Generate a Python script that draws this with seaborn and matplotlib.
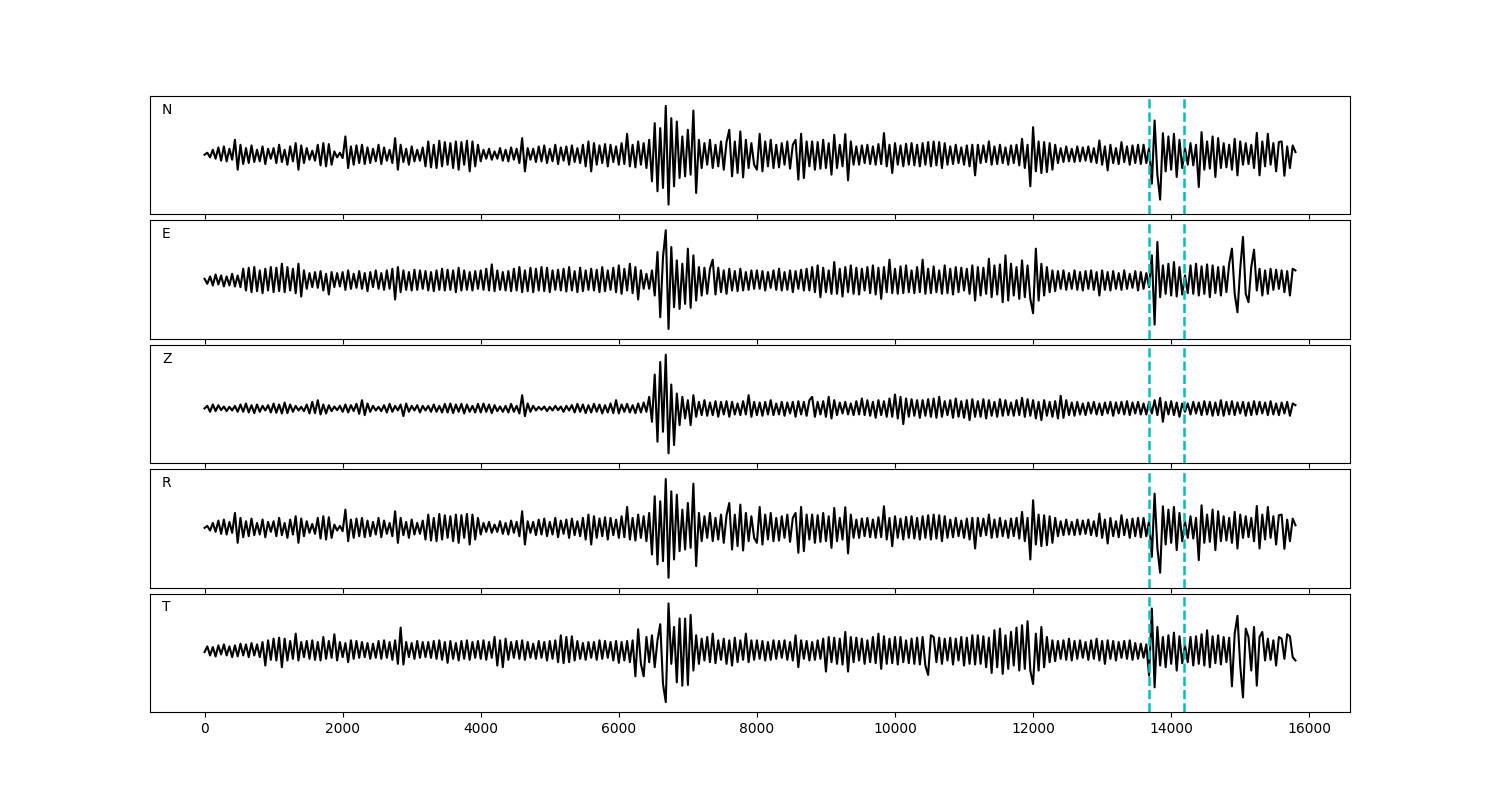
import numpy as np
import pandas as pd
import matplotlib
matplotlib.use("Agg")
import matplotlib.pyplot as plt
import seaborn as sns

STEP = 40
CHANNELS = ["N", "E", "Z", "R", "T"]
PICKS = [13680, 14190]

N_VALUES = [
    0, 6, -8, 15, -12, 22, -18, 25, -20, 18, -15, 45, -45, 30, -28, 20, -25, 28, -22, 15,
    -20, 25, -28, 18, -12, 20, -25, 30, -22, 15, -30, 25, -20, 35, -45, 28, -25, 20, -15, 12,
    -18, 30, -32, 35, -35, 32, -30, 10, -8, 6, -10, 55, -40, 25, -30, 28, -25, 30, -28, 22,
    -25, 18, -20, 30, -28, 22, -18, 15, -25, 50, -45, 30, -22, 18, -30, 25, -20, 15, -18, 22,
    -35, 40, -38, 30, -40, 42, -35, 38, -30, 35, -40, 40, -45, 38, -30, 42, -50, 40, -35, 30,
    -20, 15, -12, 18, -15, 10, -12, 20, -18, 15, -20, 22, -15, 18, -25, 50, -50, 20, -15, 18,
    -22, 25, -20, 28, -25, 18, -20, 30, -28, 22, -18, 25, -30, 28, -22, 20, -25, 30, -35, 40,
    -50, 35, -30, 28, -25, 32, -35, 30, -22, 25, -30, 35, -28, 63, -35, 30, -38, 40, -30, 35,
    -40, 45, -80, 95, -110, 80, -100, 147, -150, 110, -95, 100, -70, 55, -65, 75, -60, 133, -115, 45,
    -40, 35, -30, 45, -40, 30, -35, 40, -45, 38, 75, -65, 40, -55, 70, -68, 45, -40, 35, -30,
    -45, 63, -50, 40, -35, 45, -40, 30, -38, 35, -30, 40, -42, 30, 45, -75, 63, -70, 40, -35,
    40, -45, 38, -42, 45, -40, 35, -60, 60, -40, 30, -35, 62, -77, 40, -30, 25, -30, 28, -25,
    30, -28, 25, -30, 32, -28, 65, -35, 30, -55, 35, -30, 28, -35, 33, -30, 35, -32, 30, -35,
    35, -30, 38, -35, 40, -32, 38, -40, 35, -30, 25, -28, 30, -25, 22, -30, 28, -35, 30, -62,
    30, -25, 28, -22, 40, -30, 25, -28, 30, -25, 22, -30, 28, -25, 30, -32, 48, -40, 30, -95,
    83, -50, 40, -55, 38, -52, 35, -45, 30, -25, 20, -22, 25, -20, 18, -22, 25, -20, 22, -18,
    25, -22, 20, -25, 43, -30, 25, -47, 30, -25, 20, -28, 38, -22, 25, -30, 28, -25, 30, -28,
    30, -25, 20, -87, 103, -60, -135, 65, -50, 55, -45, 63, -67, 45, -40, 20, -30, 35, -32, 30,
    -97, 68, -45, 40, -42, 55, -67, 50, -40, 35, -38, 30, -45, 48, -62, 40, -30, 35, -28, 30,
    -40, 66, -62, 40, -35, 63, -30, 35, -50, 38, 40, -63, 25, -40, 28, 8,
]

E_VALUES = [
    5, -10, 12, -15, 18, -12, 15, -18, 12, -15, 20, -18, 15, -20, 35, -30, 38, -35, 40, -32,
    30, -38, 35, -30, 40, -35, 38, -32, 50, -35, 40, -30, 35, -38, 50, -48, 30, -25, 22, -20,
    25, -22, 28, -30, 20, -42, 25, -20, 22, -18, 25, -28, 30, -25, 20, -22, 28, -25, 22, -32,
    25, -20, 30, -25, 22, -28, 30, -25, 35, -57, 40, -35, 30, -28, 25, -30, 32, -28, 30, -25,
    28, -30, 25, -32, 30, -28, 35, -30, 32, -28, 30, -35, 38, -30, 30, -28, 25, -30, 28, -25,
    30, -28, 35, -30, 48, -32, 30, -28, 25, -30, 28, -32, 35, -30, 40, -35, 30, -32, 38, -35,
    35, -30, 40, -32, 38, -35, 30, -28, 32, -30, 35, -33, 40, -30, 28, -35, 38, -32, 30, -28,
    35, -30, 32, -35, 40, -32, 30, -28, 38, -35, 45, -40, 35, -30, 50, -38, 40, -57, 30, -25,
    20, -25, 30, -45, 85, -110, 70, 150, -145, 100, -80, 60, -85, 50, -70, 95, -82, 75, -60, 40,
    -45, 38, -40, 35, 62, -42, 38, -35, 30, -40, 35, -30, 28, -32, 35, -30, 25, -28, 30, -25,
    30, -25, 28, -30, 25, -22, 30, -28, 35, -30, 25, -28, 30, -35, 28, -25, 32, -30, 35, -30,
    40, -35, 45, -50, 38, -35, 30, -40, 55, -40, 35, -48, 40, -35, 45, -40, 38, -42, 35, -30,
    40, -38, 45, -42, 38, -55, 40, -35, 62, -38, 35, -40, 42, -38, 45, -35, 30, -38, 40, -35,
    62, -40, 35, -38, 42, -35, 30, -40, 45, -38, 35, -42, 40, -35, 38, -30, 35, -40, 45, -60,
    40, -45, 38, -40, 65, -50, 45, -42, 48, -65, 75, -60, 50, -45, 40, -55, 60, -50, 45, -55,
    -98, 95, -60, 50, -45, 40, -35, 30, -32, 28, -25, 30, -28, 22, -25, 30, -28, 25, -30, 28,
    -25, 30, -28, 25, -45, 30, -28, 25, -30, 28, -25, 22, -28, 30, -25, 20, -22, 28, -30, 25,
    -25, 22, -20, 75, -132, 115, -50, 45, -40, 50, -45, 55, -48, 40, -42, 15, -38, 45, -40, 50,
    -45, 42, -40, 48, -50, 45, -38, 40, -45, 42, -35, 50, 95, -40, -95, 35, 130, -40, -65, 40,
    92, -30, 35, -45, 30, -40, 35, -28, 32, -25, 30, -35, 28, -45, 35, 30,
]

Z_VALUES = [
    0, 8, -10, 12, -8, 10, -5, 6, -8, 5, -6, 8, -10, 12, -10, 15, -12, 10, -14, 12,
    -10, 8, -6, 10, -12, 15, -13, 12, -15, 18, -14, 12, -10, 8, -6, 5, -8, 12, -15, 20,
    -14, 25, -18, 12, -15, 10, -8, 6, -5, 8, -10, 12, -12, 10, -8, 14, -16, 25, -20, 15,
    -10, 8, -6, 5, -8, 10, -12, 14, -10, 8, -6, 12, -23, 15, -10, 8, -6, 10, -12, 8,
    -6, 8, -10, 12, -10, 8, -12, 14, -12, 15, -14, 12, -10, 14, -15, 12, -10, 8, -12, 14,
    -12, 15, -10, 12, -14, 10, -8, 6, -10, 8, -12, 14, -10, 8, -15, 40, -23, 15, -10, 8,
    -6, 5, -4, 6, -8, 5, -6, 8, -5, 6, -10, 8, -6, 10, -12, 14, -10, 12, -14, 10,
    -12, 14, -10, 12, -15, 10, -12, 15, -14, 25, -15, 12, -10, 14, -12, 10, -14, 15, -12, 18,
    -10, 35, -40, 102, -100, 140, -70, 162, -135, 72, -110, 45, -50, 35, -30, 25, -50, 40, -25, 20,
    -20, 25, -22, 18, -20, 22, -25, 20, -18, 22, -25, 20, -18, 15, -20, 22, -18, 40, -25, 20,
    -20, 18, -22, 20, -18, 25, -20, 15, -18, 20, -22, 18, -15, 20, -25, 22, -18, 20, -22, 25,
    35, -25, 20, -18, 22, -25, 35, -30, 25, -20, 18, -15, 20, -18, 15, -20, 22, -18, 30, -20,
    25, -22, 20, -28, 25, -20, 22, -25, 30, -25, 42, -30, 35, -47, 30, -25, 28, -22, 25, -28,
    25, -22, 28, -25, 30, -28, 35, -25, 22, -20, 25, -28, 30, -25, 22, -28, 25, -35, 28, -25,
    22, -25, 28, -30, 25, -22, 20, -25, 28, -22, 25, -20, 18, -22, 25, -20, 32, -25, 28, -22,
    25, -30, 20, -35, 25, -22, 20, -25, 22, -30, 38, -28, 25, -20, 18, -22, 20, -18, 15, -20,
    18, -15, 20, -18, 15, -20, 18, -15, 20, -22, 18, -15, 20, -18, 22, -20, 18, -15, 20, -18,
    15, -18, 20, -15, 25, -20, 32, -40, 20, -18, 22, -20, 18, -25, 15, -10, 15, -18, 20, -15,
    18, -20, 22, -18, 20, -22, 18, -20, 25, -22, 20, -18, 22, -20, 18, -15, 20, -22, 18, -20,
    22, -18, 20, -15, 18, -20, 22, -18, 15, -20, 18, -15, 20, -22, 15, 10,
]

R_VALUES = [
    0, 6, -8, 15, -12, 22, -18, 25, -20, 18, -15, 45, -45, 30, -28, 20, -25, 28, -22, 15,
    -20, 25, -28, 18, -12, 20, -25, 30, -22, 15, -30, 25, -20, 35, -45, 28, -25, 20, -15, 12,
    -18, 30, -32, 35, -35, 32, -30, 10, -8, 6, -10, 55, -40, 25, -30, 28, -25, 30, -28, 22,
    -25, 18, -20, 30, -28, 22, -18, 15, -25, 50, -45, 30, -22, 18, -30, 25, -20, 15, -18, 22,
    -35, 40, -38, 30, -40, 42, -35, 38, -30, 35, -40, 40, -45, 38, -30, 42, -50, 40, -35, 30,
    -20, 15, -12, 18, -15, 10, -12, 20, -18, 15, -20, 22, -15, 18, -25, 50, -50, 20, -15, 18,
    -22, 25, -20, 28, -25, 18, -20, 30, -28, 22, -18, 25, -30, 28, -22, 20, -25, 30, -35, 40,
    -50, 35, -30, 28, -25, 32, -35, 30, -22, 25, -30, 35, -28, 63, -35, 30, -38, 40, -30, 35,
    -40, 45, -80, 95, -110, 80, -100, 147, -150, 110, -95, 100, -70, 55, -65, 75, -60, 133, -115, 45,
    -40, 35, -30, 45, -40, 30, -35, 40, -45, 38, 75, -65, 40, -55, 70, -68, 45, -40, 35, -30,
    -45, 63, -50, 40, -35, 45, -40, 30, -38, 35, -30, 40, -42, 30, 45, -75, 63, -70, 40, -35,
    40, -45, 38, -42, 45, -40, 35, -60, 60, -40, 30, -35, 62, -77, 40, -30, 25, -30, 28, -25,
    30, -28, 25, -30, 32, -28, 65, -35, 30, -55, 35, -30, 28, -35, 33, -30, 35, -32, 30, -35,
    35, -30, 38, -35, 40, -32, 38, -40, 35, -30, 25, -28, 30, -25, 22, -30, 28, -35, 30, -62,
    30, -25, 28, -22, 40, -30, 25, -28, 30, -25, 22, -30, 28, -25, 30, -32, 48, -40, 30, -95,
    83, -50, 40, -55, 38, -52, 35, -45, 30, -25, 20, -22, 25, -20, 18, -22, 25, -20, 22, -18,
    25, -22, 20, -25, 43, -30, 25, -47, 30, -25, 20, -28, 38, -22, 25, -30, 28, -25, 30, -28,
    30, -25, 20, -87, 103, -60, -135, 65, -50, 55, -45, 63, -67, 45, -40, 20, -30, 35, -32, 30,
    -97, 68, -45, 40, -42, 55, -67, 50, -40, 35, -38, 30, -45, 48, -62, 40, -30, 35, -28, 30,
    -40, 66, -62, 40, -35, 63, -30, 35, -50, 38, 40, -63, 25, -40, 28, 8,
]

T_VALUES = [
    -5, 12, -15, 10, -18, 15, -12, 18, -15, 12, -20, 15, -18, 20, -15, 18, -20, 22, -15, 18,
    -20, 25, -45, 30, -28, 35, -30, 38, -50, 35, -30, 28, -25, 50, -30, 25, -20, 28, -25, 30,
    -28, 25, -30, 40, -25, 28, -22, 48, -30, 25, -20, 22, -35, 30, -25, 28, -22, 25, -20, 22,
    -25, 20, -22, 28, -25, 30, -22, 25, -28, 30, -40, 68, -42, 25, -20, 22, -25, 28, -22, 25,
    -20, 25, -22, 28, -25, 30, -28, 25, -37, 28, -25, 22, -30, 28, -25, 30, -28, 25, -22, 28,
    -25, 30, -28, 25, -22, 40, -45, 30, -50, 35, -28, 25, -22, 28, -25, 30, -28, 25, -22, 20,
    -25, 28, -22, 25, -30, 28, -25, 30, -35, 45, -38, 40, -35, 42, -30, 28, -25, 22, -28, 25,
    -22, 25, -28, 30, -25, 28, -22, 25, -30, 28, -37, 25, -30, 28, -35, 30, -77, 63, -40, -77,
    40, -35, 45, -50, 30, 78, -100, -154, 140, -40, 70, -95, 95, -105, 95, -103, 106, -60, 45, -40,
    35, -30, 40, -35, 50, -38, 30, -28, 35, -40, 30, -45, 38, -35, 30, -28, 50, -35, 30, -28,
    30, -25, 28, -30, 25, -28, 30, -25, 28, -22, 30, -28, 25, -30, 45, -50, 30, -25, 28, -30,
    25, -28, 30, -25, 35, -63, 40, -35, 38, -40, 35, -42, 55, -63, 40, -35, 38, -30, 35, -40,
    30, -35, 40, -38, 50, -55, 42, -40, 35, -38, 40, -42, 40, -35, 30, -38, 35, -40, 38, -42,
    40, -45, -73, 45, 40, -35, 38, -40, 35, -30, 38, -42, 35, -30, 40, -45, 38, -40, 45, -42,
    45, -40, 42, -50, 38, -67, 60, -50, 65, -70, 45, -55, 55, -45, 68, -60, 75, -55, 87, -60,
    -100, 50, -60, 70, -50, 40, -35, 30, -32, 28, -25, 30, -28, 35, -30, 28, -25, 30, -22, 25,
    -28, 30, -25, 35, -30, 28, -40, 30, -25, 28, -30, 25, -22, 28, -25, 30, -28, 22, -25, 20,
    -22, 18, -75, 125, -110, 70, -45, 40, -50, 45, -40, 53, -60, 42, -38, 15, -35, 40, -45, 42,
    -40, 48, -45, 60, -50, 42, -38, 45, -42, 40, -35, 38, -107, 50, 103, -45, -140, 65, 40, -60,
    70, -105, 40, 55, -30, 35, -28, 30, -45, 40, 35, -25, 48, 42, -20, -30,
]

TRACES = {"N": N_VALUES, "E": E_VALUES, "Z": Z_VALUES, "R": R_VALUES, "T": T_VALUES}

fig, axes = plt.subplots(len(CHANNELS), 1, figsize=(15, 8), dpi=100, sharex=True)
fig.subplots_adjust(left=0.1, right=0.9, top=0.88, bottom=0.11, hspace=0.05)

for ax, ch in zip(axes, CHANNELS):
    vals = np.asarray(TRACES[ch], dtype=float)
    df = pd.DataFrame({"time": np.arange(len(vals)) * STEP, "amp": vals})
    sns.lineplot(data=df, x="time", y="amp", ax=ax, color="k", linewidth=1.5,
                 estimator=None, sort=False)
    ax.margins(x=0.05, y=0.1)
    for p in PICKS:
        ax.axvline(p, color="c", linestyle="--", linewidth=1.8)
    ax.set_yticks([])
    ax.set_xlabel("")
    ax.set_ylabel("")
    ax.text(0.01, 0.85, ch, transform=ax.transAxes, fontsize=10)

axes[-1].set_xticks([0, 2000, 4000, 6000, 8000, 10000, 12000, 14000, 16000])

fig.savefig("out.png", dpi=100)
